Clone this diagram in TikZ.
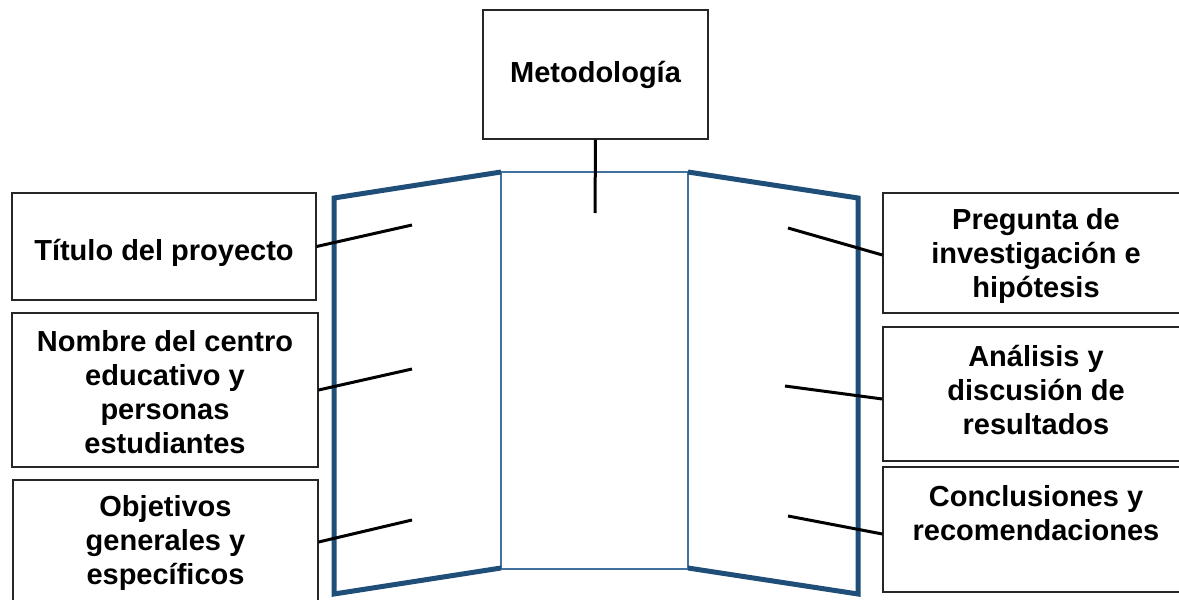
\documentclass[tikz,border=0pt]{standalone}
\usepackage{fontspec}
\setmainfont{Liberation Sans}
\usetikzlibrary{calc}
\definecolor{wingblue}{HTML}{1F4E79}
\definecolor{panelblue}{HTML}{41719C}
\definecolor{boxline}{HTML}{262626}
\tikzset{
  box/.style={draw=boxline, line width=1.2pt, fill=white, rectangle, inner sep=0pt, align=center,
              font=\fontsize{29pt}{34pt}\selectfont\bfseries},
  lbl/.style={inner sep=0pt, align=center, font=\fontsize{29pt}{34pt}\selectfont\bfseries},
  wing/.style={draw=wingblue, line width=5pt, line join=miter},
  panel/.style={draw=panelblue, line width=2pt},
  conn/.style={draw=black, line width=3pt}
}
\begin{document}
\begin{tikzpicture}[x=1pt,y=-1pt]
\useasboundingbox (0,0) rectangle (1179,600);
\clip (0,0) rectangle (1179,600);
% panels
\draw[panel] (501,172) rectangle (688,569);
\draw[wing] (501,172) -- (334,198) -- (334,594) -- (501,568);
\draw[wing] (688,172) -- (858,198) -- (858,594) -- (688,568);
% top box
\node[box, minimum width=225pt, minimum height=129pt] (met) at (595.5,74.5) {};
\node[lbl] (mett) at (595.5,75) {Metodología};
\coordinate (cm) at (595,213);
% left boxes
\node[box, minimum width=304pt, minimum height=107pt] (l1) at (164,246.5) {};
\node[lbl] (l1t) at (164,253) {Título del proyecto};
\node[box, minimum width=306pt, minimum height=154pt] (l2) at (165,390) {};
\node[lbl] (l2t) at (165,392) {Nombre del centro\\educativo y\\personas\\estudiantes};
\node[box, minimum width=305pt, minimum height=124pt] (l3) at (165.5,542) {};
\node[lbl] (l3t) at (165.5,543) {Objetivos\\generales y\\específicos};
% right boxes
\node[box, minimum width=302pt, minimum height=120pt] (r1) at (1034,253) {};
\node[lbl] (r1t) at (1036,256) {Pregunta de\\investigación e\\hipótesis};
\node[box, minimum width=302pt, minimum height=134pt] (r2) at (1034,394) {};
\node[lbl] (r2t) at (1036,390) {Análisis y\\discusión de\\resultados};
\node[box, minimum width=302pt, minimum height=125pt] (r3) at (1034,529.5) {};
\node[lbl] (r3t) at (1036,513) {Conclusiones y\\recomendaciones};
% connector ends
\coordinate (cl1) at (412,225);
\coordinate (cl2) at (412,369);
\coordinate (cl3) at (412,520);
\coordinate (cr1) at (788,228);
\coordinate (cr2) at (785,386);
\coordinate (cr3) at (788,516);
% connectors
\draw[conn] (met.south) -- (cm);
\draw[conn] (l1.east) -- (cl1);
\draw[conn] (l2.east) -- (cl2);
\draw[conn] (l3.east) -- (cl3);
\draw[conn] ($(r1.west)+(0,2)$) -- (cr1);
\draw[conn] ($(r2.west)+(0,5)$) -- (cr2);
\draw[conn] ($(r3.west)+(0,4.5)$) -- (cr3);
\end{tikzpicture}
\end{document}
